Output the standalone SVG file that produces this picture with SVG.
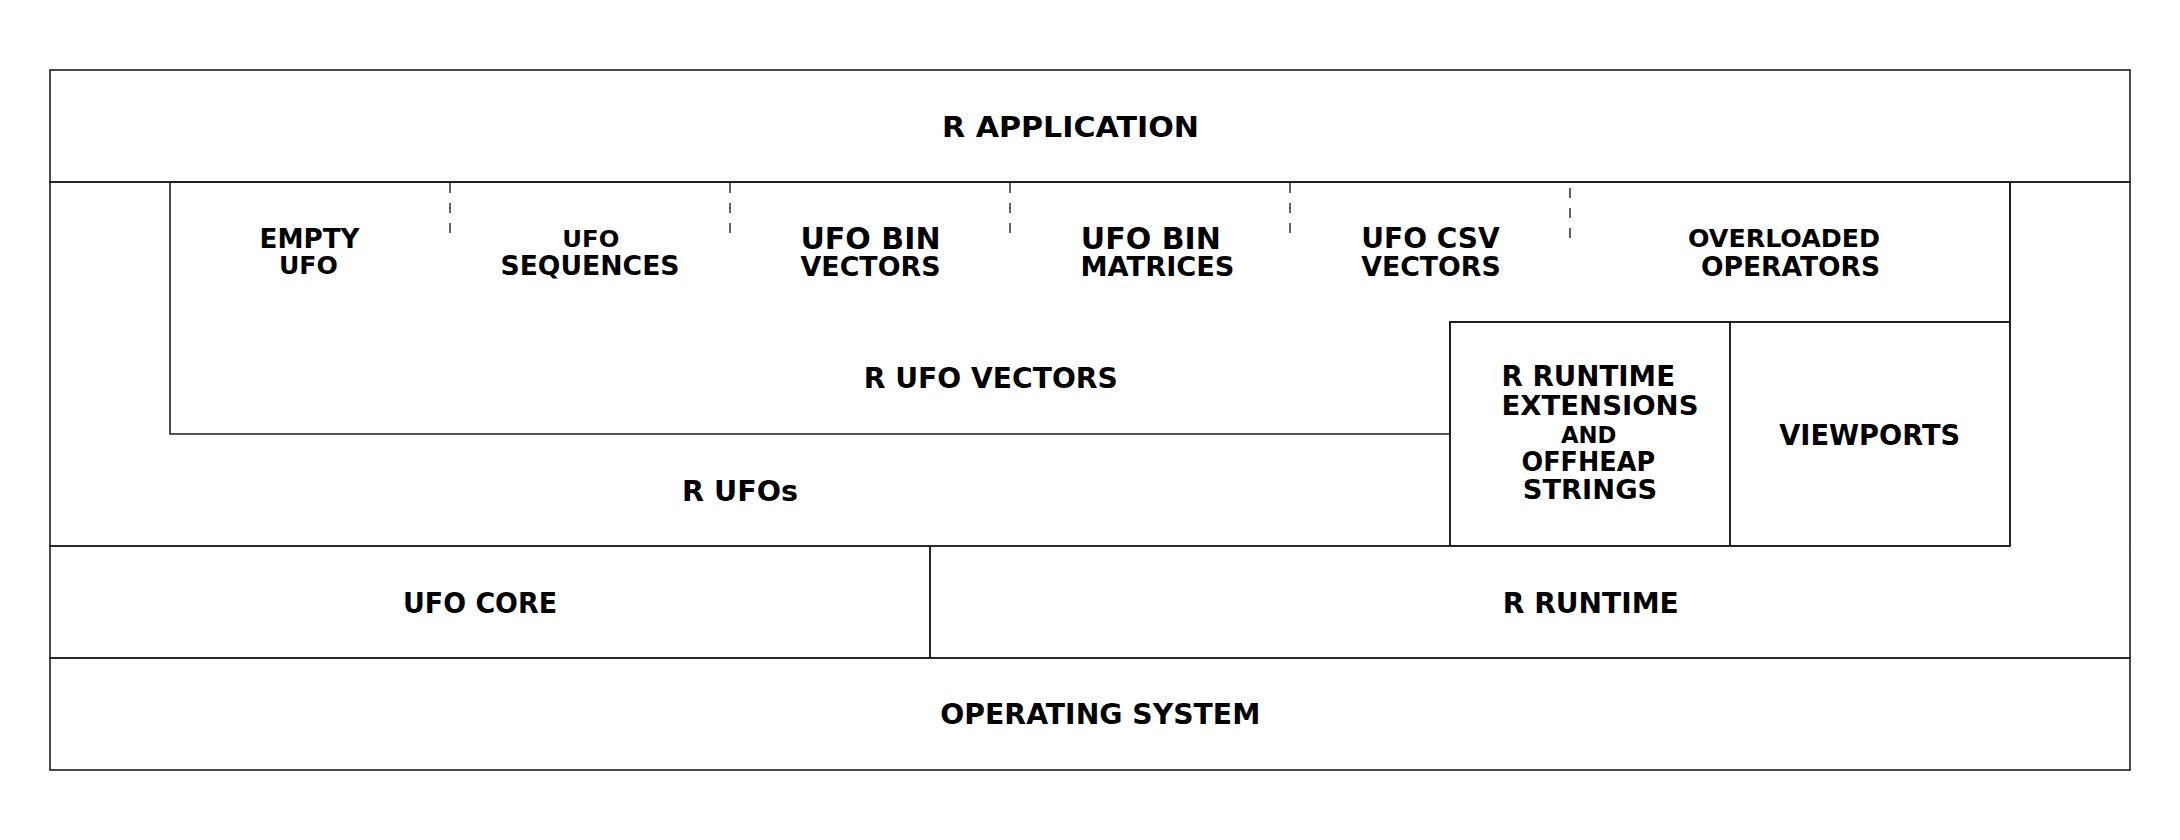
<svg xmlns="http://www.w3.org/2000/svg" width="2180" height="840" viewBox="0 0 2180 840">
<style>
.box{fill:none;stroke:#1e1e1e;stroke-width:1.6}
.div{fill:none;stroke:#222;stroke-width:1.4;stroke-dasharray:10 10}
text{font-family:"DejaVu Sans","Verdana","Liberation Sans",sans-serif;font-weight:bold;fill:#000;text-anchor:middle}
</style>
<rect width="2180" height="840" fill="#fff"/>
<g id="r-application">
<rect class="box" x="50" y="70" width="2080" height="112"/>
<text x="1070.5" y="137" font-size="29" textLength="257" lengthAdjust="spacingAndGlyphs">R APPLICATION</text>
</g>
<g id="r-ufos">
<path class="box" d="M50,182 H2010 V322 H1450 V546 H50 Z"/>
<text x="740" y="501" font-size="28.5" textLength="116" lengthAdjust="spacingAndGlyphs">R UFOs</text>
</g>
<g id="r-ufo-vectors">
<path class="box" d="M170,182 H2010 V322 H1450 V434 H170 Z"/>
<text x="990.8" y="388.3" font-size="28" textLength="254" lengthAdjust="spacingAndGlyphs">R UFO VECTORS</text>
</g>
<g id="empty-ufo">
<text x="309.5" y="247.7" font-size="26" textLength="100" lengthAdjust="spacingAndGlyphs">EMPTY</text>
<text x="308.4" y="274" font-size="24" textLength="59" lengthAdjust="spacingAndGlyphs">UFO</text>
</g>
<g id="ufo-sequences">
<text x="590.8" y="246.7" font-size="23.5" textLength="57" lengthAdjust="spacingAndGlyphs">UFO</text>
<text x="590" y="275" font-size="26" textLength="179" lengthAdjust="spacingAndGlyphs">SEQUENCES</text>
</g>
<g id="ufo-bin-vectors">
<text x="870.5" y="249.3" font-size="30" textLength="140" lengthAdjust="spacingAndGlyphs">UFO BIN</text>
<text x="870.5" y="276" font-size="27" textLength="140" lengthAdjust="spacingAndGlyphs">VECTORS</text>
</g>
<g id="ufo-bin-matrices">
<text x="1150.8" y="249.3" font-size="30" textLength="140" lengthAdjust="spacingAndGlyphs">UFO BIN</text>
<text x="1157.5" y="276" font-size="27" textLength="154" lengthAdjust="spacingAndGlyphs">MATRICES</text>
</g>
<g id="ufo-csv-vectors">
<text x="1430.5" y="248.3" font-size="27.5" textLength="138.5" lengthAdjust="spacingAndGlyphs">UFO CSV</text>
<text x="1431" y="276" font-size="27" textLength="139.5" lengthAdjust="spacingAndGlyphs">VECTORS</text>
</g>
<g id="overloaded-operators">
<text x="1784" y="247" font-size="24" textLength="192" lengthAdjust="spacingAndGlyphs">OVERLOADED</text>
<text x="1790.5" y="276" font-size="27" textLength="179" lengthAdjust="spacingAndGlyphs">OPERATORS</text>
</g>
<g id="r-runtime-extensions">
<rect class="box" x="1450" y="322" width="280" height="224"/>
<text x="1588.3" y="386" font-size="27.5" textLength="173.5" lengthAdjust="spacingAndGlyphs">R RUNTIME</text>
<text x="1600" y="415" font-size="27" textLength="197" lengthAdjust="spacingAndGlyphs">EXTENSIONS</text>
<text x="1588.7" y="442.7" font-size="22.5" textLength="55.5" lengthAdjust="spacingAndGlyphs">AND</text>
<text x="1588.3" y="471" font-size="26" textLength="133.5" lengthAdjust="spacingAndGlyphs">OFFHEAP</text>
<text x="1590" y="499" font-size="27" textLength="134.5" lengthAdjust="spacingAndGlyphs">STRINGS</text>
</g>
<g id="viewports">
<rect class="box" x="1730" y="322" width="280" height="224"/>
<text x="1869.7" y="445" font-size="28" textLength="181" lengthAdjust="spacingAndGlyphs">VIEWPORTS</text>
</g>
<g id="ufo-core">
<rect class="box" x="50" y="546" width="880" height="112"/>
<text x="480" y="612.7" font-size="28.5" textLength="154" lengthAdjust="spacingAndGlyphs">UFO CORE</text>
</g>
<g id="r-runtime">
<path class="box" d="M930,546 H2010 V182 H2130 V658 H930 Z"/>
<text x="1590.8" y="612.7" font-size="28.5" textLength="176" lengthAdjust="spacingAndGlyphs">R RUNTIME</text>
</g>
<g id="operating-system">
<rect class="box" x="50" y="658" width="2080" height="112"/>
<text x="1100.3" y="724.3" font-size="28" textLength="320" lengthAdjust="spacingAndGlyphs">OPERATING SYSTEM</text>
</g>
<g id="connectors">
<line class="div" x1="450" y1="183" x2="450" y2="233"/>
<line class="div" x1="730" y1="183" x2="730" y2="233"/>
<line class="div" x1="1010" y1="183" x2="1010" y2="233"/>
<line class="div" x1="1290" y1="183" x2="1290" y2="233"/>
<line class="div" x1="1570" y1="188" x2="1570" y2="238"/>
</g>
</svg>
